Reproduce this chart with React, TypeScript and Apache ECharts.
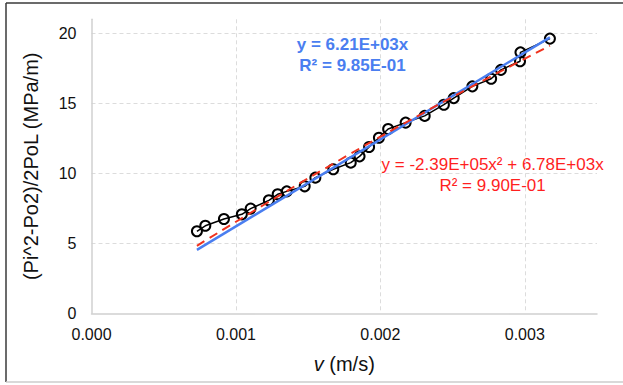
import React, { useEffect, useRef } from "react";
import * as echarts from "echarts";

// Measured data (v in m/s, y in MPa/m)
const velocity = [
  0.00073, 0.000788, 0.000917, 0.001041, 0.001102, 0.001228, 0.001289, 0.001352,
  0.001476, 0.00155, 0.001674, 0.001795, 0.001856, 0.001922, 0.00199, 0.002054,
  0.002175, 0.002307, 0.00244, 0.002508, 0.002637, 0.002767, 0.002835, 0.002967,
  0.00297, 0.003174,
];
const gradient = [
  5.86, 6.25, 6.74, 7.07, 7.48, 8.07, 8.5, 8.71, 9.07, 9.69, 10.29, 10.76, 11.21,
  11.88, 12.54, 13.16, 13.62, 14.1, 14.9, 15.37, 16.21, 16.75, 17.39, 18.0, 18.64,
  19.62,
];

// Linear trendline endpoints (y = 6.21E+03x)
const linearX = [0.00073, 0.003174];
const linearY = [4.53, 19.71];

// Polynomial trendline points (y = -2.39E+05x² + 6.78E+03x)
const polyX = [0.00073, 0.0012, 0.0017, 0.0022, 0.0027, 0.003174];
const polyY = [4.82, 7.79, 10.84, 13.76, 16.56, 19.11];

const xTicks = ["0.000", "0.001", "0.002", "0.003"];
const yTicks = [0, 5, 10, 15, 20];

const linearLabel = ["y = 6.21E+03x", "R² = 9.85E-01"];
const polyLabel = ["y = -2.39E+05x² + 6.78E+03x", "R² = 9.90E-01"];

const FONT = "'Liberation Sans', Arial, sans-serif";

export default function App() {
  const ref = useRef<HTMLDivElement>(null);

  useEffect(() => {
    document.body.style.margin = "0";
    if (!ref.current) return;
    const chart = echarts.init(ref.current, null, { renderer: "svg" });

    const pairs = (xs: number[], ys: number[]) => xs.map((x, i) => [x, ys[i]]);

    chart.setOption({
      animation: false,
      backgroundColor: "#ffffff",
      textStyle: { fontFamily: FONT },
      grid: { left: 91.5, right: 26, top: 19.3, bottom: 71.7 },
      xAxis: {
        type: "value",
        min: 0,
        max: 0.0035,
        interval: 0.001,
        name: "{i|v} (m/s)",
        nameLocation: "middle",
        nameGap: 41,
        nameTextStyle: {
          fontSize: 20,
          color: "#111",
          fontFamily: FONT,
          rich: {
            i: { fontStyle: "italic", fontSize: 20, color: "#111", fontFamily: FONT },
          },
        },
        axisLine: { show: true, lineStyle: { color: "#d0d0d0", width: 1.5 } },
        axisTick: { show: false },
        axisLabel: {
          fontSize: 16,
          color: "#111",
          margin: 13,
          showMaxLabel: false,
          formatter: (v: number) => {
            const idx = Math.round(v / 0.001);
            return Math.abs(v - idx * 0.001) < 1e-9 && xTicks[idx] ? xTicks[idx] : "";
          },
        },
        splitLine: {
          show: true,
          showMinLine: false,
          showMaxLine: false,
          lineStyle: { color: "#dcdcdc", type: [4, 3], width: 1 },
        },
      },
      yAxis: {
        type: "value",
        min: 0,
        max: 21,
        interval: 5,
        name: "(Pi^2-Po2)/2PoL (MPa/m)",
        nameLocation: "middle",
        nameGap: 51,
        nameTextStyle: { fontSize: 20, color: "#111", fontFamily: FONT },
        axisLine: { show: true, lineStyle: { color: "#d0d0d0", width: 1.5 } },
        axisTick: { show: false },
        axisLabel: {
          fontSize: 16,
          color: "#111",
          margin: 15,
          showMaxLabel: false,
          formatter: (v: number) => (yTicks.includes(v) ? String(v) : ""),
        },
        splitLine: {
          show: true,
          showMinLine: false,
          showMaxLine: false,
          lineStyle: { color: "#dcdcdc", type: [4, 3], width: 1 },
        },
      },
      series: [
        {
          type: "line",
          name: "data",
          data: pairs(velocity, gradient),
          symbol: "circle",
          symbolSize: 10,
          showAllSymbol: true,
          lineStyle: { color: "#000", width: 1.5 },
          itemStyle: { color: "rgba(0,0,0,0)", borderColor: "#000", borderWidth: 2 },
          z: 2,
        },
        {
          type: "line",
          name: "linear",
          data: pairs(linearX, linearY),
          showSymbol: false,
          symbol: "none",
          lineStyle: { color: "#4a7ef0", width: 2.5 },
          z: 3,
        },
        {
          type: "line",
          name: "poly",
          data: pairs(polyX, polyY),
          smooth: true,
          showSymbol: false,
          symbol: "none",
          lineStyle: { color: "#f0321e", width: 2, type: [9, 6] },
          z: 4,
        },
      ],
      graphic: [
        {
          type: "line",
          shape: { x1: 6, y1: 3, x2: 623, y2: 3 },
          style: { stroke: "#3a3a3a", lineWidth: 1.5 },
        },
        {
          type: "line",
          shape: { x1: 6, y1: 3, x2: 6, y2: 382 },
          style: { stroke: "#3a3a3a", lineWidth: 1.5 },
        },
        {
          type: "line",
          shape: { x1: 6, y1: 382, x2: 623, y2: 382 },
          style: { stroke: "#cccccc", lineWidth: 1.5 },
        },
        {
          type: "text",
          x: 352.5,
          y: 44.5,
          style: {
            text: linearLabel[0],
            fill: "#4a7ef0",
            font: `bold 17px ${FONT}`,
            align: "center",
            verticalAlign: "middle",
          },
        },
        {
          type: "text",
          x: 352.5,
          y: 65.5,
          style: {
            text: linearLabel[1],
            fill: "#4a7ef0",
            font: `bold 17px ${FONT}`,
            align: "center",
            verticalAlign: "middle",
          },
        },
        {
          type: "text",
          x: 492.6,
          y: 164.5,
          style: {
            text: polyLabel[0],
            fill: "#ff1f1f",
            font: `17px ${FONT}`,
            align: "center",
            verticalAlign: "middle",
          },
        },
        {
          type: "text",
          x: 492.6,
          y: 185.5,
          style: {
            text: polyLabel[1],
            fill: "#ff1f1f",
            font: `17px ${FONT}`,
            align: "center",
            verticalAlign: "middle",
          },
        },
      ],
    });

    return () => chart.dispose();
  }, []);

  return <div ref={ref} style={{ width: 623, height: 385 }} />;
}
